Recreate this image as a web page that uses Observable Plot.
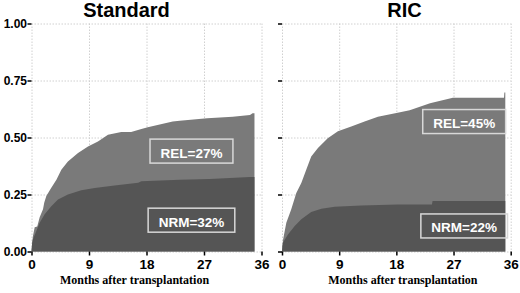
<!DOCTYPE html>
<html><head><meta charset="utf-8">
<script src="https://cdn.jsdelivr.net/npm/d3@7"></script>
<script src="https://cdn.jsdelivr.net/npm/@observablehq/plot@0.6"></script>
<style>
body{margin:0;background:#fff;}
#wrap{display:flex;width:520px;height:293px;}
</style></head><body><div id="wrap"></div>
<script>
const panels = ["Standard", "RIC"];
const xTicks = [0, 9, 18, 27, 36];
const yTicks = [0, 0.25, 0.5, 0.75, 1];
const xLabel = "Months after transplantation";

// Standard: top curve (NRM + REL) and NRM curve
const stdTopMonths = [0, 0.1, 0.23, 0.5, 0.9, 1.28, 1.8, 2.0, 2.32, 3.1, 3.9, 4.67, 5.7, 7.28, 8.84, 10.4, 11.97, 14.05, 15.6, 17.2, 18.2, 22.1, 23.2, 27.5, 31.5, 34.2, 34.6, 34.9];
const stdTopValues = [0, 0.04, 0.068, 0.106, 0.11, 0.15, 0.185, 0.215, 0.243, 0.28, 0.315, 0.359, 0.395, 0.432, 0.461, 0.483, 0.512, 0.524, 0.524, 0.537, 0.545, 0.57, 0.573, 0.584, 0.591, 0.599, 0.606, 0.606];
const stdNrmMonths = [0, 0.1, 0.23, 0.76, 1.28, 2.06, 3.1, 4.15, 5.7, 7.8, 9.9, 13, 16.7, 17.2, 23.2, 27.9, 34.2, 34.9];
const stdNrmValues = [0, 0.035, 0.054, 0.09, 0.126, 0.163, 0.199, 0.228, 0.25, 0.269, 0.279, 0.289, 0.301, 0.308, 0.315, 0.318, 0.327, 0.327];

// RIC
const ricTopMonths = [0, 0.08, 0.16, 0.68, 1.46, 2.25, 3.04, 3.83, 4.6, 5.66, 7.2, 8.8, 10.9, 13, 15.1, 18.2, 20.1, 23.3, 26.9, 34.95, 35.0, 35.15];
const ricTopValues = [0, 0.03, 0.05, 0.126, 0.185, 0.257, 0.30, 0.36, 0.417, 0.454, 0.497, 0.527, 0.548, 0.57, 0.591, 0.609, 0.62, 0.65, 0.674, 0.674, 0.697, 0.697];
const ricNrmMonths = [0, 0.08, 0.16, 0.94, 2.0, 3.04, 4.6, 6.2, 8.3, 12.5, 18.2, 23.6, 23.7, 35.15];
const ricNrmValues = [0, 0.025, 0.039, 0.075, 0.112, 0.141, 0.173, 0.188, 0.196, 0.202, 0.206, 0.206, 0.222, 0.222];

// annotation labels
const stdLabelText = ["REL=27%", "NRM=32%"];
const stdLabelMonth = [24.96, 24.96];
const stdLabelValue = [0.433, 0.13];
const ricLabelText = ["REL=45%", "NRM=22%"];
const ricLabelMonth = [28.6, 28.6];
const ricLabelValue = [0.5626, 0.1047];

const rows = (ms, vs) => ms.map((m, i) => ({month: m, value: vs[i]}));
const labs = (t, ms, vs) => t.map((s, i) => ({text: s, month: ms[i], value: vs[i]}));

const FONT = "'Liberation Sans', Arial, sans-serif";

function panel(cfg) {
  return Plot.plot({
    width: cfg.width, height: 293,
    marginLeft: cfg.ml, marginRight: cfg.mr, marginTop: 23.5, marginBottom: 41.5,
    x: {domain: [0, 36]},
    y: {domain: [0, 1]},
    style: {fontFamily: FONT, fontWeight: "bold", background: "white", overflow: "visible", color: "black"},
    marks: [
      Plot.gridX(xTicks, {stroke: "#d0d0d0", strokeOpacity: 1, strokeDasharray: "1.5,1.5"}),
      Plot.gridY(yTicks, {stroke: "#d0d0d0", strokeOpacity: 1, strokeDasharray: "1.5,1.5"}),
      Plot.areaY(cfg.top, {x: "month", y: "value", curve: "linear", fill: "#7a7a7a"}),
      Plot.areaY(cfg.nrm, {x: "month", y: "value", curve: "linear", fill: "#555555"}),
      Plot.axisY({ticks: yTicks, tickFormat: cfg.yfmt, tickSize: 4, tickPadding: 1, fontSize: 12, fontWeight: "bold", strokeWidth: 1.5, label: null}),
      Plot.axisX({ticks: xTicks, tickSize: 4, tickPadding: 3.5, fontSize: 13.5, fontWeight: "bold", strokeWidth: 1.5, label: null}),
      Plot.text(cfg.labels, {x: "month", y: "value", text: "text", fill: "white", fontSize: 13.5, fontWeight: "bold"}),
      Plot.text([cfg.title], {text: d => d, frameAnchor: "top", lineAnchor: "middle", dy: -13, dx: cfg.tdx, fontSize: 20, fontWeight: "bold", fill: "black"}),
      Plot.text([xLabel], {text: d => d, frameAnchor: "bottom", lineAnchor: "middle", dy: 28.5, dx: cfg.ldx, fontSize: 12, fontWeight: "bold", fill: "black", fontFamily: "'Liberation Serif', 'Times New Roman', serif"})
    ]
  });
}

const wrap = document.getElementById("wrap");
const left = panel({width: 270, ml: 31.5, mr: 8.5, title: panels[0], tdx: -20.5, ldx: -12.5,
  yfmt: d3.format(".2f"), top: rows(stdTopMonths, stdTopValues), nrm: rows(stdNrmMonths, stdNrmValues),
  labels: labs(stdLabelText, stdLabelMonth, stdLabelValue)});
const right = panel({width: 250, ml: 12, mr: 9.3, title: panels[1], tdx: 7.7, ldx: 6,
  yfmt: () => "", top: rows(ricTopMonths, ricTopValues), nrm: rows(ricNrmMonths, ricNrmValues),
  labels: labs(ricLabelText, ricLabelMonth, ricLabelValue)});
wrap.appendChild(left);
wrap.appendChild(right);

// boxes around the annotation labels
const NS = "http://www.w3.org/2000/svg";
for (const svg of [left, right]) {
  svg.querySelectorAll("text").forEach(t => {
    if (!/=/.test(t.textContent) || t.querySelector("tspan")) return;
    const b = t.getBBox();
    const r = document.createElementNS(NS, "rect");
    const padX = 10.5, h = 24;
    const cy = b.y + b.height / 2 - 2;
    r.setAttribute("x", b.x - padX);
    r.setAttribute("y", cy - h / 2);
    r.setAttribute("width", b.width + 2 * padX);
    r.setAttribute("height", h);
    r.setAttribute("fill", "none");
    r.setAttribute("stroke", "#d8d8d8");
    r.setAttribute("stroke-width", 1.5);
    if (t.getAttribute("transform")) r.setAttribute("transform", t.getAttribute("transform"));
    t.parentNode.insertBefore(r, t);
  });
}
</script></body></html>
